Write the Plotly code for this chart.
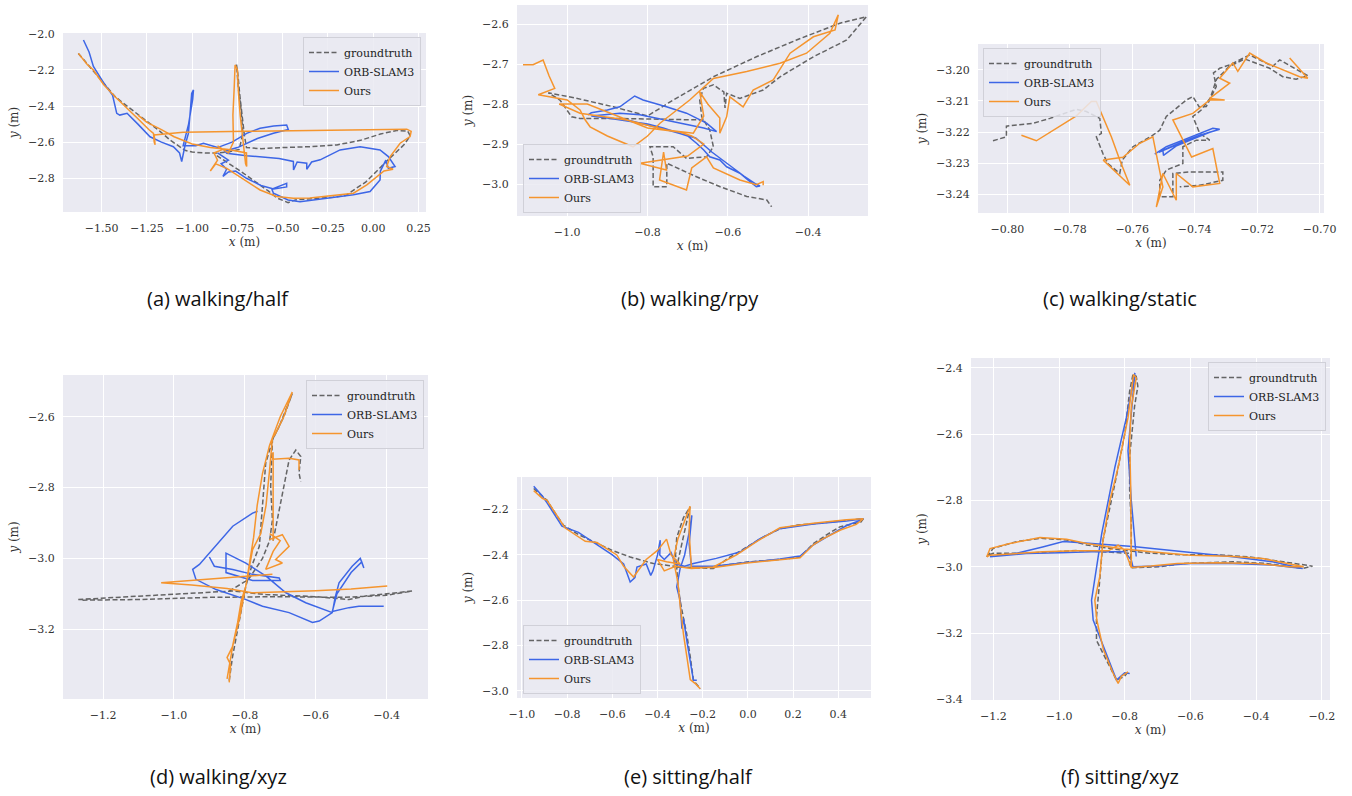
import plotly.graph_objects as go

W, H = 1352, 796

# ---------------- data (metres) ----------------
# (a) walking/half
A_GT_X = [-1.629, -1.55, -1.49, -1.426, -1.36, -1.307, -1.24, -1.178, -1.12, -1.08, -1.04, -1.0, -0.93, -0.864, -0.80, -0.74, -0.72, -0.73, -0.745, -0.755, -0.748, -0.738, -0.725, -0.712, -0.70, -0.62, -0.50, -0.35, -0.20, -0.07, 0.04, 0.13, 0.19, 0.205, 0.17, 0.12, 0.08, 0.04, 0.0, -0.04, -0.10, -0.15, -0.22, -0.30, -0.38, -0.43, -0.47, -0.53, -0.58, -0.66, -0.72, -0.78, -0.84, -0.87]
A_GT_Y = [-2.108, -2.2, -2.27, -2.348, -2.40, -2.44, -2.49, -2.54, -2.59, -2.62, -2.645, -2.655, -2.66, -2.66, -2.655, -2.64, -2.55, -2.42, -2.30, -2.17, -2.22, -2.33, -2.45, -2.56, -2.63, -2.636, -2.63, -2.625, -2.615, -2.59, -2.555, -2.535, -2.538, -2.565, -2.615, -2.66, -2.70, -2.74, -2.78, -2.82, -2.86, -2.895, -2.905, -2.91, -2.915, -2.92, -2.935, -2.91, -2.87, -2.81, -2.77, -2.73, -2.69, -2.67]
A_ORB_X = [-1.601, -1.57, -1.546, -1.49, -1.44, -1.417, -1.40, -1.36, -1.30, -1.233, -1.17, -1.104, -1.07, -1.058, -1.04, -1.021, -1.01, -1.003, -0.993, -0.997, -1.02, -1.05, -0.98, -0.938, -0.86, -0.78, -0.699, -0.625, -0.55, -0.478, -0.469, -0.551, -0.64, -0.75, -0.82, -0.809, -0.70, -0.625, -0.52, -0.441, -0.44, -0.42, -0.367, -0.367, -0.34, -0.293, -0.183, -0.072, 0.038, 0.084, 0.121, 0.084, 0.07, 0.04, 0.038, -0.017, -0.109, -0.256, -0.404, -0.47, -0.551, -0.56, -0.478, -0.478, -0.55, -0.62, -0.70, -0.76, -0.80, -0.83, -0.81, -0.84, -0.80, -0.86]
A_ORB_Y = [-2.034, -2.10, -2.18, -2.27, -2.34, -2.44, -2.45, -2.44, -2.50, -2.57, -2.60, -2.625, -2.66, -2.707, -2.62, -2.551, -2.42, -2.33, -2.31, -2.36, -2.50, -2.62, -2.62, -2.606, -2.63, -2.60, -2.551, -2.523, -2.51, -2.505, -2.53, -2.551, -2.58, -2.63, -2.65, -2.661, -2.675, -2.68, -2.69, -2.707, -2.754, -2.71, -2.717, -2.75, -2.71, -2.698, -2.643, -2.625, -2.643, -2.68, -2.735, -2.745, -2.70, -2.76, -2.81, -2.874, -2.892, -2.911, -2.93, -2.92, -2.883, -2.86, -2.828, -2.848, -2.86, -2.84, -2.80, -2.76, -2.765, -2.79, -2.75, -2.72, -2.70, -2.66]
A_OURS_X = [-1.629, -1.58, -1.546, -1.49, -1.426, -1.37, -1.30, -1.24, -1.214, -1.21, -1.205, -1.21, -1.05, -0.70, -0.30, 0.0, 0.186, 0.21, 0.204, 0.149, 0.094, 0.075, 0.11, 0.06, -0.035, -0.109, -0.256, -0.35, -0.441, -0.533, -0.625, -0.735, -0.809, -0.87, -0.90, -0.86, -0.88, -0.83, -0.86, -0.80, -0.772, -0.775, -0.768, -0.763, -0.75, -0.745, -0.735, -0.72, -0.71, -0.705, -0.699, -0.70, -0.80, -0.90, -1.00, -1.10, -1.17, -1.25, -1.30]
A_OURS_Y = [-2.108, -2.17, -2.2, -2.28, -2.348, -2.40, -2.47, -2.53, -2.551, -2.60, -2.615, -2.56, -2.545, -2.54, -2.535, -2.53, -2.528, -2.54, -2.569, -2.606, -2.68, -2.735, -2.75, -2.76, -2.837, -2.883, -2.901, -2.91, -2.911, -2.901, -2.865, -2.791, -2.745, -2.72, -2.76, -2.70, -2.66, -2.64, -2.62, -2.66, -2.60, -2.45, -2.30, -2.172, -2.20, -2.32, -2.45, -2.60, -2.66, -2.72, -2.735, -2.66, -2.64, -2.63, -2.61, -2.57, -2.53, -2.49, -2.45]

# (b) walking/rpy
B_GT_X = [-0.66, -0.76, -0.885, -0.968, -0.989, -1.018, -1.047, -0.98, -0.885, -0.80, -0.736, -0.636, -0.529, -0.429, -0.321, -0.255, -0.304, -0.387, -0.470, -0.512, -0.570, -0.603, -0.607, -0.61, -0.636, -0.661, -0.670, -0.665, -0.645, -0.636, -0.653, -0.703, -0.736, -0.794, -0.786, -0.786, -0.752, -0.752, -0.678, -0.619, -0.553, -0.503, -0.491]
B_GT_Y = [-2.84, -2.838, -2.836, -2.836, -2.832, -2.79, -2.772, -2.785, -2.807, -2.83, -2.79, -2.732, -2.682, -2.64, -2.598, -2.582, -2.64, -2.682, -2.732, -2.765, -2.786, -2.773, -2.81, -2.77, -2.752, -2.761, -2.79, -2.832, -2.865, -2.907, -2.932, -2.936, -2.907, -2.907, -2.932, -3.007, -3.007, -2.948, -2.982, -3.007, -3.031, -3.04, -3.057]
B_ORB_X = [-0.948, -0.94, -0.90, -0.869, -0.832, -0.811, -0.753, -0.703, -0.653, -0.628, -0.66, -0.761, -0.819, -0.869, -0.94, -0.90, -0.80, -0.761, -0.70, -0.678, -0.66, -0.645, -0.62, -0.603, -0.570, -0.55, -0.529, -0.52, -0.53, -0.56, -0.60, -0.64, -0.68, -0.75, -0.83, -0.87]
B_ORB_Y = [-2.827, -2.822, -2.815, -2.807, -2.78, -2.79, -2.807, -2.823, -2.848, -2.869, -2.86, -2.84, -2.827, -2.823, -2.83, -2.835, -2.85, -2.86, -2.88, -2.898, -2.915, -2.932, -2.94, -2.957, -2.973, -2.99, -3.007, -3.005, -3.0, -2.98, -2.95, -2.92, -2.885, -2.865, -2.845, -2.835]
B_OURS_X = [-1.11, -1.085, -1.06, -1.045, -1.031, -1.072, -1.0, -0.968, -0.955, -0.943, -0.90, -0.836, -0.80, -0.769, -0.695, -0.636, -0.553, -0.470, -0.404, -0.346, -0.325, -0.333, -0.387, -0.445, -0.487, -0.537, -0.562, -0.595, -0.603, -0.620, -0.62, -0.65, -0.67, -0.66, -0.686, -0.753, -0.852, -0.968, -1.02, -0.95, -0.80, -0.72, -0.69, -0.66, -0.70, -0.76, -0.819, -0.753, -0.76, -0.77, -0.703, -0.69, -0.653, -0.636, -0.570, -0.529, -0.512, -0.512]
B_OURS_Y = [-2.702, -2.702, -2.69, -2.73, -2.761, -2.777, -2.79, -2.815, -2.84, -2.857, -2.88, -2.907, -2.88, -2.848, -2.79, -2.736, -2.719, -2.698, -2.673, -2.623, -2.577, -2.615, -2.632, -2.673, -2.74, -2.765, -2.807, -2.782, -2.832, -2.873, -2.835, -2.80, -2.77, -2.83, -2.873, -2.865, -2.84, -2.823, -2.80, -2.80, -2.86, -2.87, -2.88, -2.90, -2.93, -2.94, -2.948, -2.965, -2.92, -2.99, -3.015, -2.96, -2.932, -2.96, -2.99, -3.002, -2.994, -3.003]

# (c) walking/static
C_GT_X = [-0.8046, -0.8003, -0.8003, -0.7918, -0.7864, -0.7779, -0.7747, -0.7704, -0.7699, -0.7715, -0.7694, -0.7678, -0.7640, -0.7632, -0.7598, -0.7534, -0.7512, -0.7491, -0.7427, -0.7406, -0.7385, -0.7363, -0.7331, -0.7340, -0.7320, -0.7288, -0.7224, -0.7150, -0.7128, -0.7064, -0.7038, -0.7075, -0.7118, -0.7160, -0.7240, -0.7290, -0.7330, -0.7350, -0.7380, -0.7406, -0.7384, -0.7352, -0.7395, -0.7438, -0.7438, -0.7491, -0.7512, -0.7512, -0.7470, -0.7470, -0.7416, -0.7310, -0.7310, -0.7384, -0.7448]
C_GT_Y = [-3.2228, -3.2215, -3.2181, -3.2172, -3.2156, -3.2127, -3.2134, -3.2156, -3.2204, -3.2215, -3.2269, -3.2301, -3.2333, -3.2290, -3.2247, -3.2210, -3.2194, -3.2150, -3.2097, -3.2086, -3.2120, -3.2118, -3.2054, -3.2010, -3.1995, -3.1984, -3.1952, -3.1989, -3.1968, -3.2005, -3.2019, -3.2030, -3.2022, -3.1995, -3.1965, -3.1990, -3.2030, -3.2090, -3.2130, -3.2150, -3.2204, -3.2226, -3.2226, -3.2247, -3.2301, -3.2322, -3.2355, -3.2408, -3.2408, -3.2333, -3.2328, -3.2328, -3.2355, -3.2371, -3.2376]
C_ORB_X = [-0.7528, -0.7491, -0.7438, -0.7384, -0.7342, -0.7320, -0.7384, -0.7440, -0.7502, -0.7500, -0.7460, -0.7400, -0.7350, -0.7420, -0.7480, -0.7515]
C_ORB_Y = [-3.2271, -3.2247, -3.2226, -3.2204, -3.2188, -3.2191, -3.2210, -3.2232, -3.2258, -3.2275, -3.2245, -3.2220, -3.2200, -3.2225, -3.2250, -3.2265]
C_OURS_X = [-0.7955, -0.7907, -0.7779, -0.7731, -0.7715, -0.7690, -0.7667, -0.7640, -0.7608, -0.7693, -0.7630, -0.7576, -0.7534, -0.7502, -0.7523, -0.7502, -0.7459, -0.7459, -0.7406, -0.7320, -0.7342, -0.7410, -0.7438, -0.7470, -0.7406, -0.7352, -0.7304, -0.7352, -0.7288, -0.7320, -0.7278, -0.7262, -0.7224, -0.7171, -0.7064, -0.7038, -0.7096]
C_OURS_Y = [-3.2210, -3.2228, -3.2148, -3.2102, -3.2102, -3.2160, -3.2215, -3.2290, -3.2371, -3.2290, -3.2281, -3.2236, -3.2215, -3.2376, -3.2441, -3.2333, -3.2419, -3.2333, -3.2376, -3.2365, -3.2253, -3.2280, -3.2226, -3.2161, -3.2140, -3.2097, -3.2097, -3.2092, -3.2043, -3.2027, -3.1978, -3.2005, -3.1946, -3.1978, -3.2022, -3.2027, -3.1962]

# (d) walking/xyz   (None = break between track pieces)
D_GT_X = [-1.270, -1.20, -1.116, -1.02, -0.928, -0.834, -0.741, -0.65, -0.60, -0.506, -0.459, -0.40, -0.328, -0.40, -0.52, -0.70, -0.90, -1.10, -1.264, None,
          -0.844, -0.835, -0.82, -0.805, -0.797, -0.78, -0.759, -0.75, -0.741, -0.72, -0.703, -0.666, -0.69, -0.722, -0.725, -0.727, -0.722, -0.73, -0.75, -0.79, -0.844, None,
          -0.72, -0.70, -0.675, -0.656, -0.642, -0.647, -0.642]
D_GT_Y = [-3.116, -3.112, -3.108, -3.102, -3.097, -3.092, -3.102, -3.106, -3.108, -3.116, -3.106, -3.10, -3.092, -3.104, -3.11, -3.108, -3.11, -3.116, -3.118, None,
          -3.345, -3.28, -3.20, -3.12, -3.078, -3.02, -2.966, -2.85, -2.731, -2.66, -2.628, -2.534, -2.60, -2.666, -2.73, -2.797, -2.891, -2.95, -3.0, -3.06, -3.092, None,
          -2.95, -2.85, -2.722, -2.694, -2.712, -2.759, -2.783]
D_ORB_X = [-0.764, -0.778, -0.834, -0.87, -0.909, -0.928, -0.947, -0.938, -0.881, -0.853, -0.80, -0.75, -0.675, -0.609, -0.59, -0.553, -0.545, -0.534, -0.497, -0.474, -0.464, -0.47, -0.50, -0.54, -0.553, -0.506, -0.478, -0.408, None,
           -0.90, -0.886, -0.834, -0.778, -0.703, -0.70, -0.778, -0.853, -0.853, -0.797, -0.74, -0.684, -0.628, -0.553]
D_ORB_Y = [-2.867, -2.872, -2.909, -2.95, -2.994, -3.017, -3.031, -3.059, -3.088, -3.097, -3.115, -3.135, -3.153, -3.181, -3.177, -3.153, -3.11, -3.069, -3.022, -3.0, -3.027, -3.01, -3.04, -3.10, -3.15, -3.139, -3.135, -3.135, None,
           -2.996, -3.022, -3.031, -3.045, -3.055, -3.062, -3.062, -3.04, -2.985, -3.013, -3.05, -3.097, -3.125, -3.153]
D_OURS_X = [-0.844, -0.84, -0.85, -0.835, -0.82, -0.81, -0.797, -0.785, -0.775, -0.765, -0.75, -0.73, -0.70, -0.666, -0.69, -0.713, -0.722, -0.73, -0.74, -0.755, -0.778, -0.79, -0.801, -0.815, -0.834, -0.85, None,
            -0.72, -0.72, -0.722, -0.675, -0.647, -0.647, None,
            -0.731, -0.694, -0.675, -0.713, -0.694, -0.741, -0.72, -0.70, -0.73, None,
            -0.722, -0.85, -0.95, -1.036, -0.95, -0.85, -0.78, -0.70, -0.60, -0.50, -0.398]
D_OURS_Y = [-3.35, -3.30, -3.28, -3.25, -3.18, -3.12, -3.078, -3.0, -2.94, -2.85, -2.76, -2.68, -2.60, -2.53, -2.60, -2.647, -2.66, -2.75, -2.85, -2.93, -2.975, -3.04, -3.097, -3.17, -3.247, -3.34, None,
            -2.95, -2.70, -2.72, -2.717, -2.722, -2.75, None,
            -2.947, -2.933, -2.966, -3.003, -3.013, -3.031, -2.98, -2.95, -2.93, None,
            -3.045, -3.055, -3.063, -3.069, -3.075, -3.085, -3.097, -3.095, -3.091, -3.086, -3.078]

# (e) sitting/half
E_GT_X = [-0.948, -0.92, -0.889, -0.85, -0.816, -0.75, -0.668, -0.60, -0.521, -0.418, -0.3, -0.2, -0.153, -0.08, -0.005, 0.07, 0.142, 0.22, 0.29, 0.437, 0.511, 0.50, 0.407, 0.35, 0.29, 0.231, 0.142, -0.005, -0.153, -0.25, -0.315, -0.32, -0.315, -0.285, -0.256, -0.27, -0.30, -0.315, -0.31, -0.3, -0.285, -0.271, -0.255, -0.241, -0.211]
E_GT_Y = [-2.107, -2.13, -2.159, -2.22, -2.269, -2.31, -2.35, -2.38, -2.409, -2.438, -2.453, -2.458, -2.46, -2.41, -2.365, -2.32, -2.284, -2.268, -2.262, -2.247, -2.24, -2.255, -2.276, -2.31, -2.35, -2.409, -2.42, -2.431, -2.453, -2.455, -2.453, -2.40, -2.323, -2.235, -2.188, -2.25, -2.38, -2.453, -2.53, -2.6, -2.68, -2.747, -2.85, -2.953, -2.99]
E_ORB_X = [-0.948, -0.91, -0.889, -0.823, -0.75, -0.68, -0.60, -0.55, -0.521, -0.50, -0.491, -0.45, -0.43, -0.42, -0.40, -0.388, -0.39, -0.37, -0.34, -0.32, -0.28, -0.241, -0.14, -0.035, 0.05, 0.142, 0.29, 0.437, 0.511, 0.49, 0.437, 0.35, 0.29, 0.231, 0.142, -0.005, -0.153, -0.25, -0.26, -0.248, -0.26, -0.28, -0.30, -0.315, -0.30, -0.292, -0.285, -0.27, -0.25, -0.241, -0.226]
E_ORB_Y = [-2.097, -2.14, -2.17, -2.273, -2.30, -2.345, -2.40, -2.44, -2.519, -2.50, -2.453, -2.44, -2.49, -2.47, -2.40, -2.335, -2.40, -2.42, -2.39, -2.44, -2.45, -2.438, -2.415, -2.387, -2.33, -2.284, -2.263, -2.25, -2.24, -2.25, -2.27, -2.32, -2.355, -2.405, -2.418, -2.433, -2.45, -2.45, -2.35, -2.225, -2.30, -2.40, -2.46, -2.541, -2.60, -2.725, -2.68, -2.78, -2.90, -2.953, -2.953]
E_OURS_X = [-0.948, -0.91, -0.889, -0.81, -0.72, -0.668, -0.58, -0.55, -0.506, -0.48, -0.45, -0.40, -0.36, -0.34, -0.30, -0.36, -0.40, -0.37, -0.32, -0.25, -0.153, -0.05, 0.04, 0.142, 0.29, 0.437, 0.511, 0.48, 0.41, 0.33, 0.29, 0.231, 0.142, -0.005, -0.15, -0.25, -0.26, -0.256, -0.28, -0.31, -0.33, -0.31, -0.30, -0.285, -0.27, -0.255, -0.23, -0.211]
E_OURS_Y = [-2.116, -2.15, -2.159, -2.28, -2.34, -2.345, -2.40, -2.45, -2.497, -2.46, -2.42, -2.38, -2.33, -2.40, -2.44, -2.43, -2.42, -2.47, -2.45, -2.46, -2.453, -2.40, -2.34, -2.28, -2.26, -2.245, -2.24, -2.265, -2.29, -2.33, -2.355, -2.412, -2.42, -2.435, -2.455, -2.455, -2.30, -2.185, -2.25, -2.33, -2.42, -2.52, -2.62, -2.75, -2.85, -2.95, -2.97, -2.99]

# (f) sitting/xyz
F_GT_X = [-1.220, -1.20, -1.129, -1.058, -0.977, -0.916, -0.815, -0.724, -0.623, -0.521, -0.42, -0.319, -0.258, -0.228, -0.258, -0.369, -0.471, -0.623, -0.693, -0.78, -0.785, -0.78, -0.876, -0.947, -0.997, -1.099, -1.2, -1.215, None,
          -0.78, -0.78, -0.785, -0.785, -0.77, -0.76, -0.765, -0.775, -0.785, -0.80, -0.83, -0.866, -0.876, -0.886, -0.886, -0.856, -0.825, -0.80, -0.79, -0.785]
F_GT_Y = [-2.97, -2.944, -2.924, -2.914, -2.919, -2.934, -2.949, -2.959, -2.964, -2.964, -2.97, -2.985, -2.995, -2.998, -3.005, -2.99, -2.985, -2.99, -3.0, -3.003, -2.99, -2.96, -2.954, -2.951, -2.954, -2.959, -2.959, -2.965, None,
          -3.0, -2.869, -2.768, -2.667, -2.516, -2.455, -2.425, -2.42, -2.47, -2.60, -2.75, -2.919, -3.04, -3.151, -3.222, -3.282, -3.342, -3.33, -3.317, -3.322]
F_ORB_X = [-0.785, -0.80, -0.825, -0.86, -0.896, -0.901, -0.87, -0.83, -0.795, -0.769, -0.78, -0.79, -0.78, -0.77, -0.765, None,
           -1.21, -1.129, -1.05, -0.987, -0.90, -0.775, -0.62, -0.471, -0.35, -0.258, -0.35, -0.471, -0.60, -0.70, -0.775, -0.78, -0.80, -0.90, -0.997, -1.10, -1.21]
F_ORB_Y = [-3.322, -3.32, -3.342, -3.25, -3.161, -3.101, -2.90, -2.70, -2.55, -2.415, -2.55, -2.65, -2.80, -2.93, -2.969, None,
           -2.97, -2.959, -2.94, -2.924, -2.93, -2.939, -2.955, -2.97, -2.985, -3.005, -2.995, -2.99, -2.99, -2.998, -3.0, -2.98, -2.955, -2.955, -2.958, -2.96, -2.97]
F_OURS_X = [-0.78, -0.78, -0.782, -0.785, -0.78, -0.77, -0.765, -0.773, -0.78, -0.79, -0.82, -0.845, -0.866, -0.876, -0.891, -0.885, -0.865, -0.835, -0.82, -0.81, -0.79, None,
            -1.22, -1.21, -1.15, -1.058, -0.977, -0.916, -0.815, -0.72, -0.60, -0.48, -0.38, -0.30, -0.255, -0.30, -0.40, -0.52, -0.64, -0.72, -0.78, -0.80, -0.82, -0.85, -0.947, -1.05, -1.15, -1.21, -1.22]
F_OURS_Y = [-3.0, -2.90, -2.75, -2.62, -2.52, -2.46, -2.43, -2.42, -2.48, -2.55, -2.70, -2.80, -2.92, -3.03, -3.101, -3.16, -3.25, -3.322, -3.352, -3.33, -3.317, None,
            -2.97, -2.945, -2.93, -2.912, -2.917, -2.93, -2.945, -2.955, -2.965, -2.968, -2.975, -2.99, -3.0, -3.0, -2.99, -2.988, -2.99, -2.998, -3.002, -2.95, -2.935, -2.952, -2.952, -2.955, -2.96, -2.965, -2.97]

SERIES = ["groundtruth", "ORB-SLAM3", "Ours"]
CAPTIONS = ["(a) walking/half", "(b) walking/rpy", "(c) walking/static",
            "(d) walking/xyz", "(e) sitting/half", "(f) sitting/xyz"]

X_TICKS = [[-1.5, -1.25, -1.0, -0.75, -0.5, -0.25, 0.0, 0.25],
           [-1.0, -0.8, -0.6, -0.4],
           [-0.80, -0.78, -0.76, -0.74, -0.72, -0.70],
           [-1.2, -1.0, -0.8, -0.6, -0.4],
           [-1.0, -0.8, -0.6, -0.4, -0.2, 0.0, 0.2, 0.4],
           [-1.2, -1.0, -0.8, -0.6, -0.4, -0.2]]
Y_TICKS = [[-2.0, -2.2, -2.4, -2.6, -2.8],
           [-2.6, -2.7, -2.8, -2.9, -3.0],
           [-3.20, -3.21, -3.22, -3.23, -3.24],
           [-2.6, -2.8, -3.0, -3.2],
           [-2.2, -2.4, -2.6, -2.8, -3.0],
           [-2.4, -2.6, -2.8, -3.0, -3.2, -3.4]]

PANELS = [
    (A_GT_X, A_GT_Y, A_ORB_X, A_ORB_Y, A_OURS_X, A_OURS_Y),
    (B_GT_X, B_GT_Y, B_ORB_X, B_ORB_Y, B_OURS_X, B_OURS_Y),
    (C_GT_X, C_GT_Y, C_ORB_X, C_ORB_Y, C_OURS_X, C_OURS_Y),
    (D_GT_X, D_GT_Y, D_ORB_X, D_ORB_Y, D_OURS_X, D_OURS_Y),
    (E_GT_X, E_GT_Y, E_ORB_X, E_ORB_Y, E_OURS_X, E_OURS_Y),
    (F_GT_X, F_GT_Y, F_ORB_X, F_ORB_Y, F_OURS_X, F_OURS_Y),
]

# ---------------- layout geometry (pixels) ----------------
BOXES = [(63, 426, 33, 212), (517, 868, 5, 216), (978, 1324, 44, 213),
         (63, 428, 375, 699), (517, 871, 477, 698), (971, 1330, 358, 700)]
X_RANGES = [[-1.714, 0.292], [-1.125, -0.251], [-0.8094, -0.6986],
            [-1.313, -0.283], [-1.022, 0.545], [-1.268, -0.175]]
Y_RANGES = [[-2.987, -1.995], [-3.08, -2.5525], [-3.246, -3.1917],
            [-3.397, -2.482], [-3.031, -2.056], [-3.402, -2.37]]
X_FMT = [".2f", ".1f", ".2f", ".1f", ".1f", ".1f"]
Y_FMT = [".1f", ".1f", ".2f", ".1f", ".1f", ".1f"]
CAP_POS = [(218, 298), (690, 298), (1120, 298), (218, 776), (688, 776), (1120, 776)]
# legend anchor (px x, px y, xanchor, yanchor)
LEG_POS = [(421, 37, "right", "top"), (523, 213, "left", "bottom"), (983, 48, "left", "top"),
           (424, 380, "right", "top"), (523, 694, "left", "bottom"), (1326, 362, "right", "top")]

COLORS = ["rgba(85,85,85,0.9)", "#3d66e6", "#f5952e"]
DASHES = ["5px,2.5px", "solid", "solid"]

SERIF = "DejaVu Serif"
fig = go.Figure()
layout = dict(width=W, height=H, margin=dict(l=0, r=0, t=0, b=0, autoexpand=False),
              paper_bgcolor="white", plot_bgcolor="#eaeaf2", showlegend=True,
              annotations=[])

for i, data in enumerate(PANELS):
    k = i + 1
    xa = "x" if k == 1 else f"x{k}"
    ya = "y" if k == 1 else f"y{k}"
    lg = "legend" if k == 1 else f"legend{k}"
    for s in range(3):
        fig.add_trace(go.Scatter(
            x=data[2 * s], y=data[2 * s + 1], mode="lines", name=SERIES[s],
            xaxis=xa, yaxis=ya, legend=lg,
            line=dict(color=COLORS[s], width=1.5, dash=DASHES[s]),
            connectgaps=False, hoverinfo="skip"))
    l, r, t, b = BOXES[i]
    axcommon = dict(showgrid=True, gridcolor="white", gridwidth=1, zeroline=False,
                    showline=False, ticks="outside", tickcolor="rgba(0,0,0,0)",
                    automargin=False,
                    tickfont=dict(family=SERIF, size=11, color="#333"),
                    fixedrange=True)
    layout["xaxis" if k == 1 else f"xaxis{k}"] = dict(
        domain=[l / W, r / W], range=X_RANGES[i], anchor=ya, ticklen=6,
        tickvals=X_TICKS[i], tickformat=X_FMT[i],
        title=dict(text="<i>x</i> (m)", font=dict(family=SERIF, size=12, color="#333"), standoff=3),
        **axcommon)
    layout["yaxis" if k == 1 else f"yaxis{k}"] = dict(
        domain=[1 - b / H, 1 - t / H], range=Y_RANGES[i], anchor=xa, ticklen=5,
        tickvals=Y_TICKS[i], tickformat=Y_FMT[i],
        title=dict(text="<i>y</i> (m)", font=dict(family=SERIF, size=12, color="#333"), standoff=6),
        **axcommon)
    lx, ly, xan, yan = LEG_POS[i]
    layout[lg] = dict(x=lx / W, y=1 - ly / H, xanchor=xan, yanchor=yan,
                      xref="paper", yref="paper",
                      bgcolor="rgba(234,234,242,0.85)", bordercolor="#d0d0d8", borderwidth=1,
                      font=dict(family=SERIF, size=11, color="#222"),
                      tracegroupgap=0, itemwidth=30, itemclick=False, itemdoubleclick=False)
    cx, cy = CAP_POS[i]
    layout["annotations"].append(dict(
        text=CAPTIONS[i], x=cx / W, y=1 - cy / H, xref="paper", yref="paper",
        xanchor="center", yanchor="middle", showarrow=False,
        font=dict(family="Open Sans", size=20, color="#111")))

fig.update_layout(**layout)
# remove the default 8px page margin so the figure sits at the window origin
fig.write_html("out.html", config={"displayModeBar": False},
               post_script="document.body.style.margin='0px';document.body.style.overflow='hidden';")
